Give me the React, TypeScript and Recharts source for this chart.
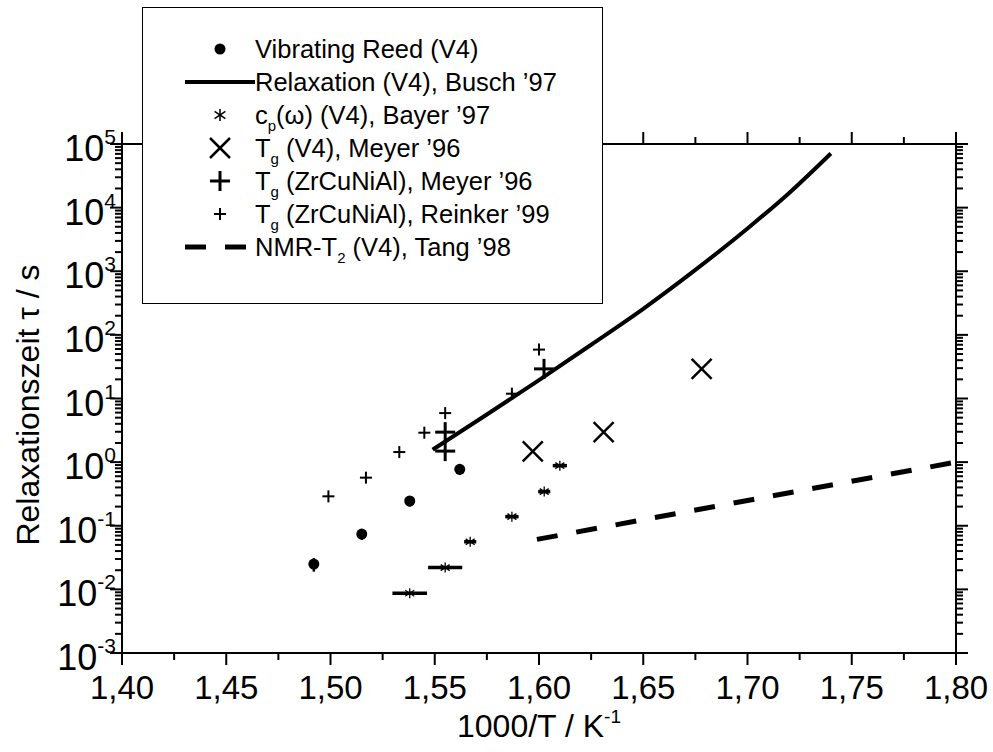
import { ScatterChart, Scatter, XAxis, YAxis, ErrorBar } from 'recharts';

// values
const reedX = [1.492, 1.515, 1.538, 1.562];
const reedTau = [0.025, 0.074, 0.245, 0.77];
const reedErr = [0.006, 0.014, 0.045, 0.14];

const buschX = [1.549, 1.575, 1.6, 1.625, 1.65, 1.675, 1.7, 1.72, 1.74];
const buschTau = [1.57, 5.6, 19.5, 70, 257, 1050, 4700, 17000, 71000];

const cpX = [1.538, 1.555, 1.567, 1.587, 1.6025, 1.61];
const cpTau = [0.0087, 0.022, 0.056, 0.139, 0.344, 0.88];
const cpErr = [0.0083, 0.0082, 0.0029, 0.0032, 0.0029, 0.0034];

const tgV4X = [1.597, 1.631, 1.678];
const tgV4Tau = [1.48, 2.96, 29.2];

const tgMeyerX = [1.555, 1.555, 1.6024];
const tgMeyerTau = [1.49, 2.96, 29.2];

const reinkerX = [1.499, 1.517, 1.533, 1.545, 1.555, 1.587, 1.6];
const reinkerTau = [0.29, 0.57, 1.44, 2.9, 5.9, 11.9, 58.7];

const tangX = [1.599, 1.7, 1.8];
const tangTau = [0.061, 0.25, 1.0];

const xTicks = [1.4, 1.425, 1.45, 1.475, 1.5, 1.525, 1.55, 1.575, 1.6, 1.625, 1.65, 1.675, 1.7, 1.725, 1.75, 1.775, 1.8];
const decades = [-3, -2, -1, 0, 1, 2, 3, 4, 5];

const FONT = '"Liberation Sans", Arial, sans-serif';

const yTicks: number[] = [];
decades.forEach((d) => {
  yTicks.push(Math.pow(10, d));
  if (d < 5) for (let m = 2; m <= 9; m++) yTicks.push(m * Math.pow(10, d));
});

const zip = (xs: number[], ys: number[], errs?: number[]) =>
  xs.map((x, i) => ({ x, y: ys[i], err: errs ? errs[i] : 0 }));

const isMajorX = (v: number) => Math.abs(v * 20 - Math.round(v * 20)) < 1e-6;
const decadeOf = (v: number) => Math.round(Math.log10(v));
const isMajorY = (v: number) => Math.abs(Math.log10(v) - decadeOf(v)) < 1e-6;

const BottomTick = ({ x, y, payload }: any) => {
  const major = isMajorX(payload.value);
  return (
    <g>
      <line x1={x} y1={y} x2={x} y2={y + (major ? 12 : 7)} stroke="#000" strokeWidth={2} />
      {major && (
        <text x={x} y={y + 46} textAnchor="middle" fontSize={33} fontFamily={FONT} fill="#000">
          {payload.value.toFixed(2).replace('.', ',')}
        </text>
      )}
    </g>
  );
};

const TopTick = ({ x, y, payload }: any) => (
  <line x1={x} y1={y} x2={x} y2={y - (isMajorX(payload.value) ? 12 : 7)} stroke="#000" strokeWidth={2} />
);

const LeftTick = ({ x, y, payload }: any) => {
  const major = isMajorY(payload.value);
  return (
    <g>
      <line x1={x} y1={y} x2={x - (major ? 12 : 7)} y2={y} stroke="#000" strokeWidth={2} />
      {major && (
        <text x={x - 6} y={y + 17} textAnchor="end" fontSize={36} fontFamily={FONT} fill="#000">
          10
          <tspan fontSize={21} dy={-17}>{decadeOf(payload.value)}</tspan>
        </text>
      )}
    </g>
  );
};

const RightTick = ({ x, y, payload }: any) => (
  <line x1={x} y1={y} x2={x + (isMajorY(payload.value) ? 12 : 7)} y2={y} stroke="#000" strokeWidth={2} />
);

const Dot = ({ cx, cy }: any) => <circle cx={cx} cy={cy} r={5.5} fill="#000" />;
const Star = ({ cx, cy, s = 1 }: any) => (
  <g stroke="#000" strokeWidth={1.3 * s}>
    <line x1={cx} y1={cy - 5 * s} x2={cx} y2={cy + 5 * s} />
    <line x1={cx - 4.5 * s} y1={cy - 3 * s} x2={cx + 4.5 * s} y2={cy + 3 * s} />
    <line x1={cx - 4.5 * s} y1={cy + 3 * s} x2={cx + 4.5 * s} y2={cy - 3 * s} />
  </g>
);
const Cross = ({ cx, cy }: any) => (
  <g stroke="#000" strokeWidth={2.5}>
    <line x1={cx - 10} y1={cy - 10} x2={cx + 10} y2={cy + 10} />
    <line x1={cx - 10} y1={cy + 10} x2={cx + 10} y2={cy - 10} />
  </g>
);
const BigPlus = ({ cx, cy }: any) => (
  <g stroke="#000" strokeWidth={3}>
    <line x1={cx - 10} y1={cy} x2={cx + 10} y2={cy} />
    <line x1={cx} y1={cy - 10} x2={cx} y2={cy + 10} />
  </g>
);
const SmallPlus = ({ cx, cy }: any) => (
  <g stroke="#000" strokeWidth={2}>
    <line x1={cx - 6} y1={cy} x2={cx + 6} y2={cy} />
    <line x1={cx} y1={cy - 6} x2={cx} y2={cy + 6} />
  </g>
);
const NoShape = () => <g />;

const Sub = ({ children }: any) => (
  <span style={{ fontSize: 15, position: 'relative', top: 7 }}>{children}</span>
);

const legendRows = [
  { sym: <Dot cx={35} cy={16} />, text: <>Vibrating Reed (V4)</> },
  { sym: <line x1={0} y1={16} x2={70} y2={16} stroke="#000" strokeWidth={4} />, text: <>Relaxation (V4), Busch ’97</> },
  { sym: <Star cx={35} cy={16} s={1.2} />, text: <>c<Sub>p</Sub>(ω) (V4), Bayer ’97</> },
  { sym: <Cross cx={35} cy={16} />, text: <>T<Sub>g</Sub> (V4), Meyer ’96</> },
  { sym: <BigPlus cx={35} cy={16} />, text: <>T<Sub>g</Sub> (ZrCuNiAl), Meyer ’96</> },
  { sym: <SmallPlus cx={35} cy={16} />, text: <>T<Sub>g</Sub> (ZrCuNiAl), Reinker ’99</> },
  { sym: <line x1={0} y1={16} x2={70} y2={16} stroke="#000" strokeWidth={5} strokeDasharray="21 19" />, text: <>NMR-T<Sub>2</Sub> (V4), Tang ’98</> },
];

export default function App() {
  return (
    <div style={{ position: 'absolute', left: 0, top: 0, width: 993, height: 752, background: '#fff', fontFamily: FONT }}>
      <ScatterChart width={993} height={752} margin={{ top: 124, right: 17, bottom: 0, left: 0 }}>
        <XAxis
          xAxisId="b"
          type="number"
          dataKey="x"
          domain={[1.4, 1.8]}
          ticks={xTicks}
          interval={0}
          allowDataOverflow
          height={99}
          tickSize={0}
          tickMargin={0}
          tick={<BottomTick />}
          axisLine={{ stroke: '#000', strokeWidth: 2 }}
        />
        <XAxis
          xAxisId="t"
          orientation="top"
          type="number"
          dataKey="x"
          domain={[1.4, 1.8]}
          ticks={xTicks}
          interval={0}
          allowDataOverflow
          height={20}
          tickSize={0}
          tickMargin={0}
          tick={<TopTick />}
          axisLine={{ stroke: '#000', strokeWidth: 2 }}
        />
        <YAxis
          yAxisId="l"
          type="number"
          dataKey="y"
          scale="log"
          domain={[0.001, 100000]}
          ticks={yTicks}
          interval={0}
          allowDataOverflow
          width={122}
          tickSize={0}
          tickMargin={0}
          tick={<LeftTick />}
          axisLine={{ stroke: '#000', strokeWidth: 2 }}
        />
        <YAxis
          yAxisId="r"
          orientation="right"
          type="number"
          dataKey="y"
          scale="log"
          domain={[0.001, 100000]}
          ticks={yTicks}
          interval={0}
          allowDataOverflow
          width={20}
          tickSize={0}
          tickMargin={0}
          tick={<RightTick />}
          axisLine={{ stroke: '#000', strokeWidth: 2 }}
        />
        <Scatter xAxisId="b" yAxisId="l" data={zip(tangX, tangTau)} shape={NoShape} line={{ stroke: '#000', strokeWidth: 5, strokeDasharray: '21 19' }} isAnimationActive={false} />
        <Scatter xAxisId="b" yAxisId="l" data={zip(buschX, buschTau)} shape={NoShape} lineJointType="monotoneX" line={{ stroke: '#000', strokeWidth: 4 }} isAnimationActive={false} />
        <Scatter xAxisId="b" yAxisId="l" data={zip(reedX, reedTau, reedErr)} shape={Dot} isAnimationActive={false}>
          <ErrorBar dataKey="err" direction="y" width={0} stroke="#000" strokeWidth={2.5} isAnimationActive={false} />
        </Scatter>
        <Scatter xAxisId="b" yAxisId="l" data={zip(cpX, cpTau, cpErr)} shape={Star} isAnimationActive={false}>
          <ErrorBar dataKey="err" direction="x" width={0} stroke="#000" strokeWidth={3.5} isAnimationActive={false} />
        </Scatter>
        <Scatter xAxisId="b" yAxisId="l" data={zip(tgV4X, tgV4Tau)} shape={Cross} isAnimationActive={false} />
        <Scatter xAxisId="b" yAxisId="l" data={zip(tgMeyerX, tgMeyerTau)} shape={BigPlus} isAnimationActive={false} />
        <Scatter xAxisId="b" yAxisId="l" data={zip(reinkerX, reinkerTau)} shape={SmallPlus} isAnimationActive={false} />
      </ScatterChart>

      <div
        style={{
          position: 'absolute', left: 142, top: 7, width: 461, height: 297, boxSizing: 'border-box',
          border: '1.5px solid #000', background: '#fff', paddingTop: 25,
        }}
      >
        {legendRows.map((r, i) => (
          <div key={i} style={{ display: 'flex', alignItems: 'center', height: 33, fontSize: 25.5, whiteSpace: 'nowrap' }}>
            <svg width={70} height={33} style={{ marginLeft: 42, flex: 'none' }}>{r.sym}</svg>
            <span>{r.text}</span>
          </div>
        ))}
      </div>

      <div
        style={{
          position: 'absolute', left: 28, top: 405, transform: 'translate(-50%, -50%) rotate(-90deg)',
          fontSize: 32, whiteSpace: 'nowrap',
        }}
      >
        Relaxationszeit τ / s
      </div>
      <div style={{ position: 'absolute', left: 0, width: 1078, top: 708, textAlign: 'center', fontSize: 32, whiteSpace: 'nowrap' }}>
        1000/T / K<span style={{ fontSize: 19, position: 'relative', top: -14 }}>-1</span>
      </div>
    </div>
  );
}
